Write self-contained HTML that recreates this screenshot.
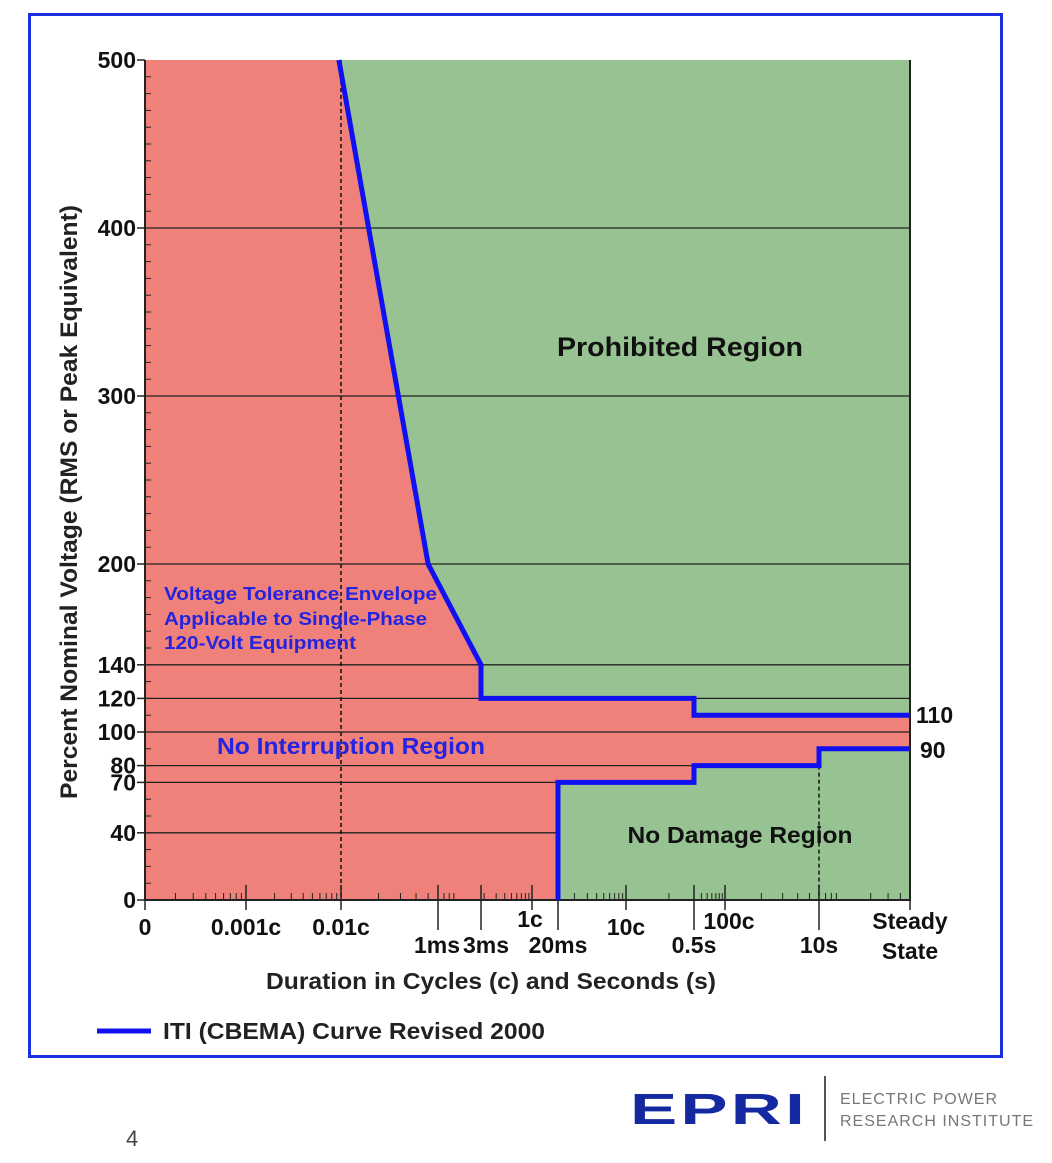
<!DOCTYPE html>
<html><head><meta charset="utf-8">
<style>
html,body{margin:0;padding:0;background:#fff;}
body{width:1052px;height:1158px;position:relative;overflow:hidden;font-family:"Liberation Sans",sans-serif;}
svg text{font-family:"Liberation Sans",sans-serif;font-weight:bold;}
</style></head>
<body>
<svg id="chart" width="1052" height="1158" viewBox="0 0 1052 1158" xmlns="http://www.w3.org/2000/svg">
<rect x="29.5" y="14.5" width="972" height="1042" fill="#fff" stroke="#1a2fe0" stroke-width="3"/>
<g id="plot"></g>
<text transform="translate(77,502) rotate(-90)" text-anchor="middle" font-size="24" fill="#222" textLength="594" lengthAdjust="spacingAndGlyphs">Percent Nominal Voltage (RMS or Peak Equivalent)</text>
<text x="491" y="989" text-anchor="middle" font-size="23" fill="#222" textLength="450" lengthAdjust="spacingAndGlyphs">Duration in Cycles (c) and Seconds (s)</text>
<line x1="97" y1="1031" x2="151" y2="1031" stroke="#1010f0" stroke-width="5"/>
<text x="163" y="1039" font-size="23" fill="#222" textLength="382" lengthAdjust="spacingAndGlyphs">ITI (CBEMA) Curve Revised 2000</text>
<text x="126" y="1146" font-size="22" fill="#444" style="font-weight:normal">4</text>
<g>
<text x="630" y="1124" font-size="44" fill="#1428a0" style="font-weight:900;letter-spacing:2px" textLength="178" lengthAdjust="spacingAndGlyphs">EPRI</text>
<line x1="825" y1="1076" x2="825" y2="1141" stroke="#555" stroke-width="2"/>
<text x="840" y="1104" font-size="16" fill="#777" style="font-weight:normal;letter-spacing:1px">ELECTRIC POWER</text>
<text x="840" y="1126" font-size="16" fill="#777" style="font-weight:normal;letter-spacing:1px">RESEARCH INSTITUTE</text>
</g>
</svg>
<script>
// ---- data ----
const yTicks = [0,40,70,80,100,120,140,200,300,400,500];
const xKnotCycles = [0.0001,0.001,0.01,0.06,0.18,1,1.2,10,30,100,600,5000];
const xKnotLabels = ["0","0.001c","0.01c","1ms","3ms","1c","20ms","10c","0.5s","100c","10s","Steady State"];
const upperCycles = [0.0095,0.05,0.18,0.18,30,30,5000];
const upperVolts  = [500,200,140,120,120,110,110];
const lowerCycles = [1.2,1.2,30,30,600,600,5000];
const lowerVolts  = [0,70,70,80,80,90,90];
const endLabels = ["110","90"];

// ---- scales (layout) ----
const X0=145,X1=910,Y0=900,Y1=60;
const knotPx=[145,246,341,438,481,532,558,626,694,725,819,910];
function xs(c){
  const l=Math.log10(c);
  for(let i=0;i<xKnotCycles.length-1;i++){
    const a=Math.log10(xKnotCycles[i]),b=Math.log10(xKnotCycles[i+1]);
    if(l<=b||i===xKnotCycles.length-2){return knotPx[i]+(l-a)/(b-a)*(knotPx[i+1]-knotPx[i]);}
  }
}
function ys(v){return Y0-(v/500)*(Y0-Y1);}
const NS="http://www.w3.org/2000/svg";
const g=document.getElementById('plot');
function mk(t,at){const e=document.createElementNS(NS,t);for(const k in at)e.setAttribute(k,at[k]);g.appendChild(e);return e;}

let e=mk('rect',{x:X0,y:Y1,width:X1-X0,height:Y0-Y1,fill:'#ef817a'});


let pts=[[xs(upperCycles[0]),Y1]];
for(let i=0;i<upperCycles.length;i++)pts.push([xs(upperCycles[i]),ys(upperVolts[i])]);
pts.push([X1,Y1]);
e=mk('polygon',{points:pts.map(p=>p.join(',')).join(' '),fill:'#97c392'});


yTicks.forEach(v=>{
  if(v===0||v===500)return;
  const l=mk('line',{x1:X0,x2:X1,y1:ys(v),y2:ys(v),stroke:'#222','stroke-width':1.3});
  
  
});
pts=[];
for(let i=0;i<lowerCycles.length;i++)pts.push([xs(lowerCycles[i]),ys(lowerVolts[i])]);
pts.push([X1,Y0]);
e=mk('polygon',{points:pts.map(p=>p.join(',')).join(' '),fill:'#97c392'});


e=mk('line',{x1:xs(0.01),x2:xs(0.01),y1:Y1,y2:Y0,stroke:'#111','stroke-width':1.5,'stroke-dasharray':'4,3'});


e=mk('line',{x1:xs(600),x2:xs(600),y1:ys(80),y2:Y0,stroke:'#111','stroke-width':1.5,'stroke-dasharray':'4,3'});


for(let v=10;v<500;v+=10){mk('line',{x1:X0,x2:X0+6,y1:ys(v),y2:ys(v),stroke:'#222','stroke-width':1});}
for(let d=-4;d<4;d++){for(let m=2;m<10;m++){const c=m*Math.pow(10,d);if(c>=5000)continue;const x=xs(c);mk('line',{x1:x,x2:x,y1:Y0-7,y2:Y0,stroke:'#222','stroke-width':1});}}
e=mk('path',{d:`M${X0},${Y1} L${X0},${Y0} L${X1},${Y0} L${X1},${Y1}`,fill:'none',stroke:'#222','stroke-width':2});


yTicks.forEach(v=>{
  const t=mk('text',{x:136,y:ys(v)+8,'text-anchor':'end','font-size':23,fill:'#111'});t.textContent=String(v);
  
  
  mk('line',{x1:X0-8,x2:X0,y1:ys(v),y2:ys(v),stroke:'#222','stroke-width':1.5});
});
const lowRow={"1ms":1,"3ms":1,"20ms":1,"0.5s":1,"10s":1};
xKnotLabels.forEach((lab,i)=>{
  const x=xs(xKnotCycles[i]);
  const low=lowRow[lab];
  mk('line',{x1:x,x2:x,y1:Y0-15,y2:low?Y0+30:Y0+10,stroke:'#222','stroke-width':1.5});
  let yy=low?953:935, ax='middle', xx=x;
  if(lab==="1ms"){ax='end';xx=x+22;}
  if(lab==="3ms"){ax='start';xx=x-18;}
  if(lab==="1c"){xx=x-2;yy=927;}
  if(lab==="100c"){xx=x+4;yy=929;}
  if(lab==="Steady State"){
    let t=mk('text',{x:x,y:929,'text-anchor':'middle','font-size':23,fill:'#111'});t.textContent="Steady";
    
    
    t=mk('text',{x:x,y:959,'text-anchor':'middle','font-size':23,fill:'#111'});t.textContent="State";
    
    
    return;
  }
  const t=mk('text',{x:xx,y:yy,'text-anchor':ax,'font-size':23,fill:'#111'});t.textContent=lab;
  
  
});
function line(cs,vs,name){
  const d=cs.map((c,i)=>(i?'L':'M')+xs(c)+','+ys(vs[i])).join(' ');
  const p=mk('path',{d:d,fill:'none',stroke:'#1010f0','stroke-width':5,'stroke-linejoin':'miter'});
  
  
}
line(upperCycles,upperVolts,'iti-upper-curve');
line(lowerCycles,lowerVolts,'iti-lower-curve');
let t=mk('text',{x:916,y:ys(upperVolts[upperVolts.length-1])+8,'font-size':23,fill:'#111'});t.textContent=endLabels[0];


t=mk('text',{x:920,y:ys(lowerVolts[lowerVolts.length-1])+9,'font-size':23,fill:'#111'});t.textContent=endLabels[1];


function lab(x,y,s,size,col,name,anchor,len){const t=mk('text',{x:x,y:y,'font-size':size,fill:col,'text-anchor':anchor||'start'});if(len){t.setAttribute('textLength',len);t.setAttribute('lengthAdjust','spacingAndGlyphs');}t.textContent=s;}
lab(680,356,'Prohibited Region',27,'#111','prohibited-region-label','middle',246);
lab(740,843,'No Damage Region',23,'#111','no-damage-region-label','middle',225);
lab(217,754,'No Interruption Region',23,'#2323e0','no-interruption-region-label','start',268);
lab(164,600,'Voltage Tolerance Envelope',18,'#2323e0','envelope-note-line1','start',273);
lab(164,625,'Applicable to Single-Phase',18,'#2323e0','envelope-note-line2','start',263);
lab(164,649,'120-Volt Equipment',18,'#2323e0','envelope-note-line3','start',192);
</script>
</body></html>
